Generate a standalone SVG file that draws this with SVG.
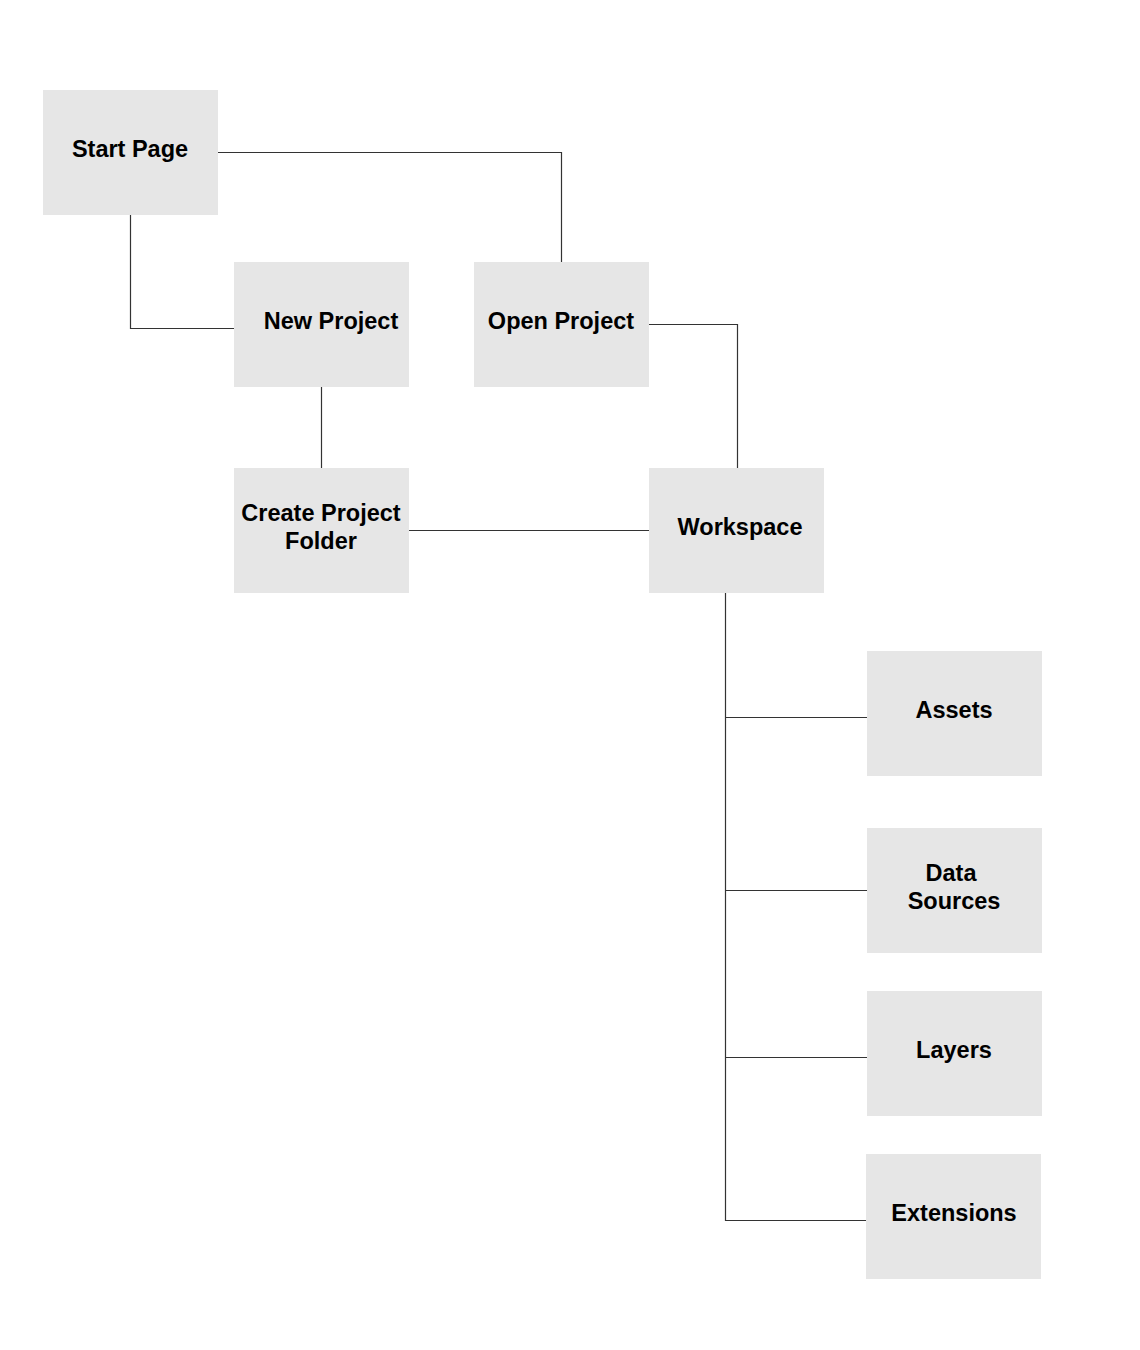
<svg xmlns="http://www.w3.org/2000/svg" width="1140" height="1350" viewBox="0 0 1140 1350">
<style>
.box{fill:#e6e6e6}
.lbl{font-family:"Liberation Sans",Arial,Helvetica,sans-serif;font-weight:bold;font-size:23.5px;fill:#000;text-anchor:middle}
.edge{fill:none;stroke:#333;stroke-width:1.2}
</style>
<rect width="1140" height="1350" fill="#fff"/>
<g id="connectors">
<polyline class="edge" points="218,152.5 561.5,152.5 561.5,262"/>
<polyline class="edge" points="130.5,215 130.5,328.5 234,328.5"/>
<polyline class="edge" points="321.5,387 321.5,468"/>
<polyline class="edge" points="649,324.5 737.5,324.5 737.5,468"/>
<polyline class="edge" points="409,530.5 649,530.5"/>
<polyline class="edge" points="725.5,593 725.5,1220.5 866,1220.5"/>
<polyline class="edge" points="725.5,717.5 867,717.5"/>
<polyline class="edge" points="725.5,890.5 867,890.5"/>
<polyline class="edge" points="725.5,1057.5 867,1057.5"/>
</g>
<g id="start-page"><rect class="box" x="43" y="90" width="175" height="125"/><text class="lbl" x="130" y="157">Start Page</text></g>
<g id="new-project"><rect class="box" x="234" y="262" width="175" height="125"/><text class="lbl" x="331" y="329">New Project</text></g>
<g id="open-project"><rect class="box" x="474" y="262" width="175" height="125"/><text class="lbl" x="561" y="329">Open Project</text></g>
<g id="create-project-folder"><rect class="box" x="234" y="468" width="175" height="125"/><text class="lbl" x="321" y="521">Create Project</text><text class="lbl" x="321" y="549">Folder</text></g>
<g id="workspace"><rect class="box" x="649" y="468" width="175" height="125"/><text class="lbl" x="740" y="535">Workspace</text></g>
<g id="assets"><rect class="box" x="867" y="651" width="175" height="125"/><text class="lbl" x="954" y="718">Assets</text></g>
<g id="data-sources"><rect class="box" x="867" y="828" width="175" height="125"/><text class="lbl" x="951" y="881">Data</text><text class="lbl" x="954" y="909">Sources</text></g>
<g id="layers"><rect class="box" x="867" y="991" width="175" height="125"/><text class="lbl" x="954" y="1058">Layers</text></g>
<g id="extensions"><rect class="box" x="866" y="1154" width="175" height="125"/><text class="lbl" x="954" y="1221">Extensions</text></g>
</svg>
